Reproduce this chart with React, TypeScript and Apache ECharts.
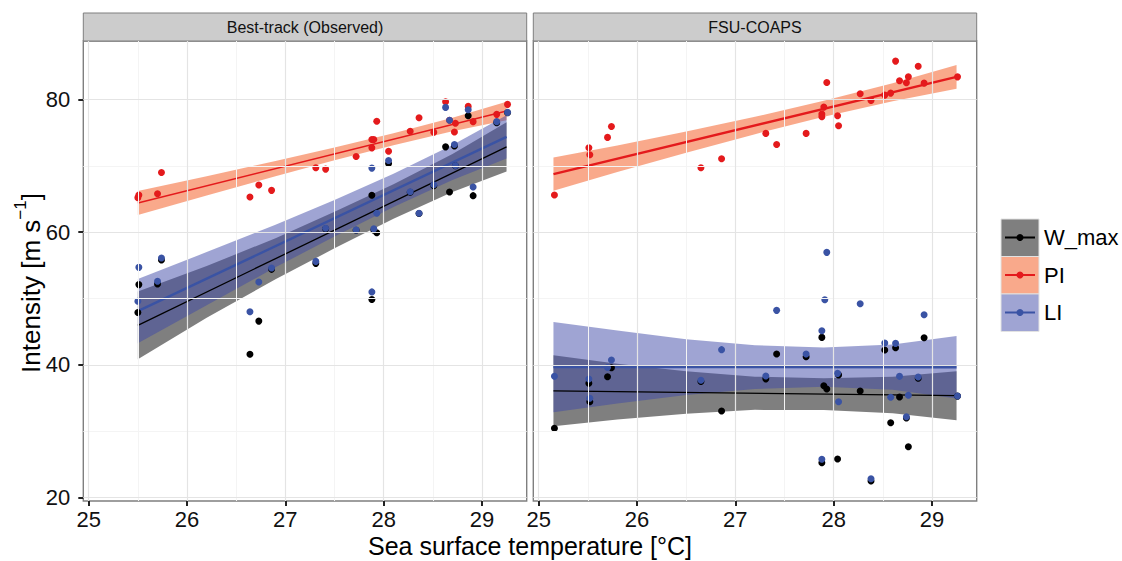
import React, { useEffect, useRef } from "react";
import * as echarts from "echarts";

const FONT = "'Liberation Sans', Arial, Helvetica, sans-serif";

const panelTitles = ["Best-track (Observed)", "FSU-COAPS"];
const groupNames = ["W_max", "PI", "LI"];
const groupColors = ["#000000", "#e41a1c", "#3a53a4"];
const ribbonFills = ["rgba(0,0,0,0.5)", "rgba(243,83,23,0.5)", "rgba(63,74,168,0.5)"];

const xTicks = [25, 26, 27, 28, 29];
const xMinor = [25.5, 26.5, 27.5, 28.5];
const yTicks = [20, 40, 60, 80];
const yMinor = [30, 50, 70];
const xRange = [24.945, 29.455];
const yRange = [19.5, 88.8];

// ---------- Best-track (Observed) ----------
const obsWmax = [[25.50,47.9],[25.51,52.1],[25.70,52.2],[25.74,55.8],[26.64,41.6],[26.73,46.6],[26.86,54.4],[27.31,55.3],[27.41,60.5],[27.72,60.3],[27.88,65.55],[27.88,49.85],[27.90,60.3],[27.93,59.9],[28.05,70.35],[28.27,66.0],[28.36,62.8],[28.51,67.0],[28.63,72.85],[28.67,66.05],[28.72,73.0],[28.73,70.0],[28.86,77.55],[28.91,65.5],[29.15,76.5],[29.26,78.0]];
const obsPI = [[25.50,65.2],[25.51,65.6],[25.70,65.8],[25.74,69.0],[26.64,65.3],[26.73,67.1],[26.86,66.3],[27.31,69.7],[27.41,69.5],[27.72,71.4],[27.88,72.7],[27.88,73.95],[27.90,73.95],[27.93,76.7],[28.05,72.2],[28.27,75.2],[28.36,77.25],[28.51,75.05],[28.63,79.65],[28.67,76.85],[28.72,75.1],[28.73,76.4],[28.86,78.95],[28.91,76.65],[29.15,77.75],[29.26,79.25]];
const obsLI = [[25.51,54.7],[25.50,49.6],[25.70,52.6],[25.74,56.1],[26.64,48.0],[26.73,52.5],[26.86,54.6],[27.31,55.6],[27.41,60.6],[27.72,60.35],[27.88,69.65],[27.88,51.0],[27.90,60.5],[27.93,62.85],[28.05,70.8],[28.27,66.1],[28.36,62.85],[28.51,67.15],[28.63,78.8],[28.67,76.85],[28.72,73.2],[28.73,70.05],[28.86,78.45],[28.91,66.8],[29.15,76.65],[29.26,78.05]];

const obsFitWmax = [[25.5,45.97],[29.25,72.85]];
const obsFitPI = [[25.5,64.4],[29.25,78.25]];
const obsFitLI = [[25.5,48.1],[29.25,74.35]];

const obsBandX = [25.5, 26.2, 26.9, 27.5, 28.1, 28.7, 29.25];
const obsWmaxLower = [40.87, 47.09, 52.9, 57.56, 62.01, 66.06, 69.15];
const obsWmaxUpper = [51.07, 54.89, 59.1, 63.06, 67.21, 71.76, 76.55];
const obsPILower = [62.6, 65.54, 68.42, 70.84, 73.1, 75.22, 76.85];
const obsPIUpper = [66.2, 68.44, 70.72, 72.74, 74.9, 77.22, 79.65];
const obsLILower = [43.25, 49.0, 54.7, 59.35, 63.8, 67.85, 71.1];
const obsLIUpper = [52.95, 57.0, 61.1, 64.85, 68.8, 73.15, 77.6];

// ---------- FSU-COAPS ----------
const modWmax = [[25.16,30.45],[25.51,37.23],[25.52,34.46],[25.70,38.22],[25.74,39.58],[26.65,37.5],[26.86,33.06],[27.31,37.9],[27.42,41.64],[27.72,41.24],[27.93,36.37],[27.90,36.87],[27.88,44.15],[27.88,25.27],[28.04,25.83],[28.05,38.5],[28.27,36.07],[28.38,22.5],[28.52,42.24],[28.58,31.3],[28.63,42.6],[28.67,35.17],[28.74,32.0],[28.76,27.68],[28.86,38.0],[28.92,44.1],[29.26,35.3]];
const modPI = [[25.16,65.59],[25.51,72.71],[25.52,71.66],[25.70,74.28],[25.74,75.93],[26.65,69.7],[26.86,71.05],[27.31,74.88],[27.42,73.22],[27.72,74.88],[27.93,82.56],[27.90,78.84],[27.88,77.79],[27.88,77.38],[28.04,77.53],[28.05,76.02],[28.27,80.84],[28.38,79.85],[28.52,80.65],[28.58,80.95],[28.63,85.77],[28.67,82.8],[28.74,82.5],[28.76,83.4],[28.86,85.0],[28.92,82.45],[29.26,83.4]];
const modLI = [[25.16,38.28],[25.51,37.88],[25.52,34.97],[25.70,39.6],[25.74,40.74],[26.65,37.68],[26.86,42.3],[27.31,38.33],[27.42,48.22],[27.72,41.64],[27.93,56.96],[27.91,49.82],[27.88,45.15],[27.88,25.78],[28.04,38.73],[28.05,34.46],[28.27,49.22],[28.38,22.86],[28.52,43.3],[28.58,35.12],[28.63,43.25],[28.67,38.28],[28.74,32.2],[28.76,35.42],[28.86,38.18],[28.92,47.56],[29.26,35.32]];

const modFitWmax = [[25.15,36.1],[29.25,35.36]];
const modFitPI = [[25.15,68.75],[29.25,83.4]];
const modFitLI = [[25.15,39.68],[29.25,39.65]];

const modBandX = [25.15, 25.8, 26.5, 27.2, 27.9, 28.6, 29.25];
const modWmaxLower = [30.75, 31.78, 32.66, 33.23, 33.21, 32.73, 31.66];
const modWmaxUpper = [41.45, 40.18, 39.06, 38.23, 38.01, 38.23, 39.06];
const modPILower = [66.25, 69.07, 71.97, 74.77, 77.38, 79.73, 81.6];
const modPIUpper = [71.25, 73.07, 75.17, 77.37, 79.78, 82.43, 85.2];
const modLILower = [32.88, 34.18, 35.47, 36.37, 36.71, 36.26, 34.95];
const modLIUpper = [46.48, 45.18, 43.87, 42.97, 42.61, 43.06, 44.35];

const panels = [
  {
    points: [obsWmax, obsPI, obsLI],
    fits: [obsFitWmax, obsFitPI, obsFitLI],
    bandX: obsBandX,
    lowers: [obsWmaxLower, obsPILower, obsLILower],
    uppers: [obsWmaxUpper, obsPIUpper, obsLIUpper],
    widths: [1.3, 1.4, 2.4],
  },
  {
    points: [modWmax, modPI, modLI],
    fits: [modFitWmax, modFitPI, modFitLI],
    bandX: modBandX,
    lowers: [modWmaxLower, modPILower, modLILower],
    uppers: [modWmaxUpper, modPIUpper, modLIUpper],
    widths: [1.3, 2.4, 2.4],
  },
];

const GRID_LEFT = [83.3, 533.3];
const GRID_TOP = 41;
const GRID_W = 443.4;
const GRID_H = 460;

function buildOption() {
  const grid = GRID_LEFT.map((l) => ({
    left: l,
    top: GRID_TOP,
    width: GRID_W,
    height: GRID_H,
    show: true,
    backgroundColor: "#ffffff",
    borderColor: "#7f7f7f",
    borderWidth: 1.4,
  }));

  const xAxis = GRID_LEFT.map((_, i) => ({
    type: "value",
    gridIndex: i,
    min: xRange[0],
    max: xRange[1],
    axisLine: { show: false },
    axisTick: {
      show: true,
      length: 5,
      lineStyle: { color: "#222", width: 2 },
      customValues: xTicks,
    },
    axisLabel: {
      show: true,
      customValues: xTicks,
      fontSize: 22,
      color: "#111",
      fontFamily: FONT,
      margin: 7,
      formatter: (v: number) => (Math.abs(v - Math.round(v)) < 1e-6 ? String(Math.round(v)) : ""),
    },
    splitLine: { show: false },
  }));

  const yAxis = GRID_LEFT.map((_, i) => ({
    type: "value",
    gridIndex: i,
    min: yRange[0],
    max: yRange[1],
    axisLine: { show: false },
    axisTick: {
      show: i === 0,
      length: 5,
      lineStyle: { color: "#222", width: 2 },
      customValues: yTicks,
    },
    axisLabel: {
      show: i === 0,
      customValues: yTicks,
      fontSize: 22,
      color: "#111",
      fontFamily: FONT,
      margin: 13,
      formatter: (v: number) => (Math.abs(v - Math.round(v)) < 1e-6 && v % 20 === 0 ? String(v) : ""),
    },
    splitLine: { show: false },
  }));

  const series: any[] = [];
  panels.forEach((p, pi) => {
    // grid lines
    series.push({
      type: "line",
      xAxisIndex: pi,
      yAxisIndex: pi,
      data: [],
      silent: true,
      z: 1,
      markLine: {
        silent: true,
        symbol: ["none", "none"],
        label: { show: false },
        animation: false,
        data: [
          ...xMinor.map((v) => ({ xAxis: v, lineStyle: { color: "#f4f4f4", width: 1, type: "solid" } })),
          ...yMinor.map((v) => ({ yAxis: v, lineStyle: { color: "#f4f4f4", width: 1, type: "solid" } })),
          ...xTicks.map((v) => ({ xAxis: v, lineStyle: { color: "#e4e4e4", width: 1.2, type: "solid" } })),
          ...yTicks.map((v) => ({ yAxis: v, lineStyle: { color: "#e4e4e4", width: 1.2, type: "solid" } })),
        ],
      },
    });
    // points
    p.points.forEach((pts, gi) => {
      series.push({
        type: "scatter",
        name: groupNames[gi],
        xAxisIndex: pi,
        yAxisIndex: pi,
        data: pts,
        symbol: "circle",
        symbolSize: 7,
        itemStyle: { color: groupColors[gi], opacity: 1 },
        z: 2,
        silent: true,
      });
    });
    // smooths: ribbon + line per group
    p.fits.forEach((fit, gi) => {
      const bx = p.bandX;
      const lo = p.lowers[gi];
      const up = p.uppers[gi];
      series.push({
        type: "custom",
        xAxisIndex: pi,
        yAxisIndex: pi,
        coordinateSystem: "cartesian2d",
        data: bx.map((x, k) => [x, lo[k], up[k]]),
        encode: { x: 0, y: [1, 2] },
        z: 2,
        silent: true,
        renderItem: (params: any, api: any) => {
          if (params.dataIndex !== 0) return null;
          const top = bx.map((x, k) => api.coord([x, up[k]]));
          const bot = bx.map((x, k) => api.coord([x, lo[k]])).reverse();
          return {
            type: "polygon",
            shape: { points: top.concat(bot) },
            style: { fill: ribbonFills[gi], stroke: "none" },
          };
        },
      });
      series.push({
        type: "line",
        xAxisIndex: pi,
        yAxisIndex: pi,
        data: fit,
        symbol: "none",
        lineStyle: { color: groupColors[gi], width: p.widths[gi] },
        z: 2,
        silent: true,
      });
    });
  });

  const graphic: any[] = [];
  GRID_LEFT.forEach((l, i) => {
    graphic.push({
      type: "rect",
      shape: { x: l, y: 13, width: GRID_W, height: 28 },
      style: { fill: "#cccccc", stroke: "#7f7f7f", lineWidth: 1 },
    });
    graphic.push({
      type: "text",
      x: l + GRID_W / 2,
      y: 27.5,
      style: {
        text: panelTitles[i],
        fontSize: 16,
        fontFamily: FONT,
        fill: "#111",
        align: "center",
        verticalAlign: "middle",
      },
    });
  });
  graphic.push({
    type: "text",
    x: 530,
    y: 546,
    style: {
      text: "Sea surface temperature [°C]",
      fontSize: 25,
      fontFamily: FONT,
      fill: "#000",
      align: "center",
      verticalAlign: "middle",
    },
  });
  graphic.push({
    type: "text",
    x: 28,
    y: 283,
    rotation: Math.PI / 2,
    style: {
      text: "{a|Intensity [m s}{b|−1}{a|]}",
      align: "center",
      verticalAlign: "middle",
      fill: "#000",
      rich: {
        a: { fontSize: 26, fontFamily: FONT, fill: "#000", lineHeight: 32, verticalAlign: "bottom" },
        b: { fontSize: 17, fontFamily: FONT, fill: "#000", lineHeight: 32, verticalAlign: "top" },
      },
    },
  });
  // legend
  const keyTops = [219, 256.5, 294];
  groupNames.forEach((name, gi) => {
    const y = keyTops[gi];
    const cy = y + 18.5;
    graphic.push({
      type: "rect",
      shape: { x: 1001, y, width: 38, height: 37.5 },
      style: { fill: ribbonFills[gi], stroke: "#e2e2e2", lineWidth: 1 },
    });
    graphic.push({
      type: "line",
      shape: { x1: 1005, y1: cy, x2: 1035, y2: cy },
      style: { stroke: groupColors[gi], lineWidth: 2 },
    });
    graphic.push({
      type: "circle",
      shape: { cx: 1020, cy, r: 3.5 },
      style: { fill: groupColors[gi] },
    });
    graphic.push({
      type: "text",
      x: 1044,
      y: cy,
      style: {
        text: name,
        fontSize: 22,
        fontFamily: FONT,
        fill: "#000",
        align: "left",
        verticalAlign: "middle",
      },
    });
  });

  return {
    animation: false,
    backgroundColor: "#ffffff",
    grid,
    xAxis,
    yAxis,
    series,
    graphic,
  };
}

export default function App() {
  const ref = useRef<HTMLDivElement>(null);
  useEffect(() => {
    document.body.style.margin = "0";
    if (!ref.current) return;
    const chart = echarts.init(ref.current, null, { renderer: "svg" });
    chart.setOption(buildOption() as any);
    return () => {
      chart.dispose();
    };
  }, []);
  return <div ref={ref} style={{ width: 1122, height: 561 }} />;
}
